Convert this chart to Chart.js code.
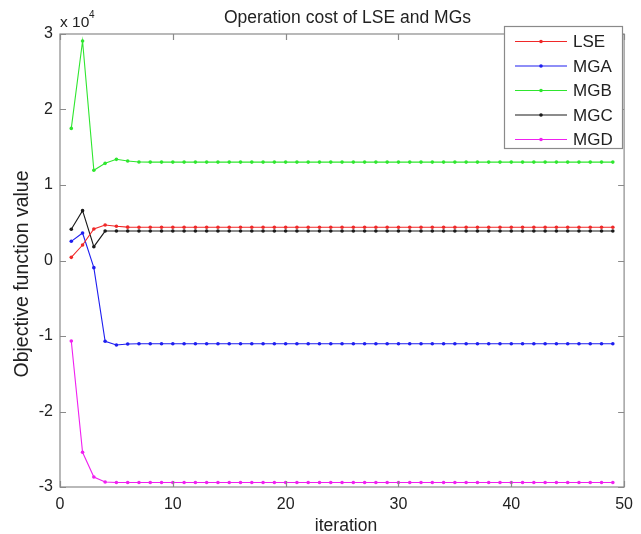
<!DOCTYPE html>
<html>
<head>
<meta charset="utf-8">
<script src="https://cdn.jsdelivr.net/npm/chart.js@4/dist/chart.umd.min.js"></script>
<style>
  html, body { margin: 0; padding: 0; background: #ffffff; }
  #c { display: block; }
</style>
</head>
<body>
<canvas id="c" width="641" height="534"></canvas>
<script>
// ---- Data ----
const iterations = [1,2,3,4,5,6,7,8,9,10,11,12,13,14,15,16,17,18,19,20,21,22,23,24,25,26,27,28,29,30,31,32,33,34,35,36,37,38,39,40,41,42,43,44,45,46,47,48,49];

const seriesNames = ["LSE", "MGA", "MGB", "MGC", "MGD"];

const lseValues = [420, 2050, 4170, 4700, 4530, 4420, 4400, 4400, 4400, 4400, 4400, 4400, 4400, 4400, 4400, 4400, 4400, 4400, 4400, 4400, 4400, 4400, 4400, 4400, 4400, 4400, 4400, 4400, 4400, 4400, 4400, 4400, 4400, 4400, 4400, 4400, 4400, 4400, 4400, 4400, 4400, 4400, 4400, 4400, 4400, 4400, 4400, 4400, 4400];

const mgaValues = [2540, 3640, -950, -10700, -11190, -11060, -11030, -11020, -11020, -11020, -11020, -11020, -11020, -11020, -11020, -11020, -11020, -11020, -11020, -11020, -11020, -11020, -11020, -11020, -11020, -11020, -11020, -11020, -11020, -11020, -11020, -11020, -11020, -11020, -11020, -11020, -11020, -11020, -11020, -11020, -11020, -11020, -11020, -11020, -11020, -11020, -11020, -11020, -11020];

const mgbValues = [17500, 29070, 11950, 12870, 13400, 13180, 13050, 13030, 13030, 13030, 13030, 13030, 13030, 13030, 13030, 13030, 13030, 13030, 13030, 13030, 13030, 13030, 13030, 13030, 13030, 13030, 13030, 13030, 13030, 13030, 13030, 13030, 13030, 13030, 13030, 13030, 13030, 13030, 13030, 13030, 13030, 13030, 13030, 13030, 13030, 13030, 13030, 13030, 13030];

const mgcValues = [4130, 6600, 1830, 3900, 3900, 3900, 3900, 3900, 3900, 3900, 3900, 3900, 3900, 3900, 3900, 3900, 3900, 3900, 3900, 3900, 3900, 3900, 3900, 3900, 3900, 3900, 3900, 3900, 3900, 3900, 3900, 3900, 3900, 3900, 3900, 3900, 3900, 3900, 3900, 3900, 3900, 3900, 3900, 3900, 3900, 3900, 3900, 3900, 3900];

const mgdValues = [-10660, -25400, -28670, -29340, -29400, -29400, -29400, -29400, -29400, -29400, -29400, -29400, -29400, -29400, -29400, -29400, -29400, -29400, -29400, -29400, -29400, -29400, -29400, -29400, -29400, -29400, -29400, -29400, -29400, -29400, -29400, -29400, -29400, -29400, -29400, -29400, -29400, -29400, -29400, -29400, -29400, -29400, -29400, -29400, -29400, -29400, -29400, -29400, -29400];

const xTickValues = [0, 10, 20, 30, 40, 50];
const yTickValues = [-30000, -20000, -10000, 0, 10000, 20000, 30000];

const titleText = "Operation cost of LSE and MGs";
const xTitleText = "iteration";
const yTitleText = "Objective function value";

// ---- Styles ----
const seriesColors = ["#f02828", "#1e1ef0", "#2ee62e", "#1a1a1a", "#f020f0"];
const allValues = [lseValues, mgaValues, mgbValues, mgcValues, mgdValues];
const FONT = "'Liberation Sans', Arial, Helvetica, sans-serif";
const TEXT = "#222222";
const FRAME = "#8a8a8a";

const datasets = seriesNames.map((name, i) => ({
  label: name,
  data: iterations.map((it, k) => ({ x: it, y: allValues[i][k] })),
  borderColor: seriesColors[i],
  backgroundColor: seriesColors[i],
  borderWidth: 1.1,
  pointRadius: 1.8,
  pointBorderWidth: 0,
  pointHoverRadius: 1.8,
  tension: 0,
  fill: false
}));

const decorPlugin = {
  id: 'decor',
  afterDatasetsDraw(chart) {
    const ctx = chart.ctx;
    const a = chart.chartArea;
    const xs = chart.scales.x, ys = chart.scales.y;
    ctx.save();
    // frame
    ctx.strokeStyle = FRAME;
    ctx.lineWidth = 1.2;
    ctx.strokeRect(a.left, a.top, a.right - a.left, a.bottom - a.top);
    // inward ticks
    const tl = 6;
    ctx.beginPath();
    xTickValues.forEach(v => {
      const px = Math.round(xs.getPixelForValue(v)) + 0.5;
      ctx.moveTo(px, a.bottom); ctx.lineTo(px, a.bottom - tl);
      ctx.moveTo(px, a.top); ctx.lineTo(px, a.top + tl);
    });
    yTickValues.forEach(v => {
      const py = Math.round(ys.getPixelForValue(v)) + 0.5;
      ctx.moveTo(a.left, py); ctx.lineTo(a.left + tl, py);
      ctx.moveTo(a.right, py); ctx.lineTo(a.right - tl, py);
    });
    ctx.stroke();

    // title
    ctx.fillStyle = TEXT;
    ctx.textAlign = 'center';
    ctx.textBaseline = 'alphabetic';
    ctx.font = "17.5px " + FONT;
    ctx.fillText(titleText, 347.5, 22.5);

    // x axis title
    ctx.font = "17.5px " + FONT;
    ctx.fillText(xTitleText, 346, 530.5);

    // y axis title
    ctx.save();
    ctx.translate(27.5, 274);
    ctx.rotate(-Math.PI / 2);
    ctx.font = "19.5px " + FONT;
    ctx.fillText(yTitleText, 0, 0);
    ctx.restore();

    // exponent label
    ctx.textAlign = 'left';
    ctx.font = "15.5px " + FONT;
    ctx.fillText("x 10", 60, 26.5);
    ctx.font = "10px " + FONT;
    ctx.fillText("4", 89, 18);

    // legend
    const bx = 504, by = 26, bw = 118, bh = 122;
    ctx.fillStyle = "#ffffff";
    ctx.fillRect(bx, by, bw, bh);
    ctx.strokeStyle = FRAME;
    ctx.lineWidth = 1.2;
    ctx.strokeRect(bx + 0.5, by + 0.5, bw, bh);
    const rows = [41.5, 66, 90.5, 115, 139.5];
    ctx.font = "17px " + FONT;
    ctx.textBaseline = 'middle';
    chart.data.datasets.forEach((ds, i) => {
      const y = rows[i];
      ctx.strokeStyle = ds.borderColor;
      ctx.lineWidth = 1.1;
      ctx.beginPath();
      ctx.moveTo(515, y); ctx.lineTo(567, y);
      ctx.stroke();
      ctx.fillStyle = ds.borderColor;
      ctx.beginPath();
      ctx.arc(541, y, 1.8, 0, Math.PI * 2);
      ctx.fill();
      ctx.fillStyle = TEXT;
      ctx.fillText(ds.label, 573, y + 1);
    });
    ctx.restore();
  }
};

new Chart(document.getElementById('c'), {
  type: 'line',
  data: { datasets },
  options: {
    responsive: false,
    devicePixelRatio: 1,
    animation: false,
    layout: { padding: { top: 34, right: 8, left: 0, bottom: 0 } },
    scales: {
      x: {
        type: 'linear',
        min: 0, max: 50,
        afterBuildTicks: s => { s.ticks = xTickValues.map(v => ({ value: v })); },
        afterFit: s => { s.height = 47; },
        grid: { display: false, drawTicks: false },
        border: { display: false },
        ticks: { color: TEXT, font: { family: FONT, size: 16 }, padding: 8, maxRotation: 0, autoSkip: false }
      },
      y: {
        type: 'linear',
        min: -30000, max: 30000,
        afterBuildTicks: s => { s.ticks = yTickValues.map(v => ({ value: v })); },
        afterFit: s => { s.width = 60; },
        grid: { display: false, drawTicks: false },
        border: { display: false },
        ticks: { color: TEXT, font: { family: FONT, size: 16 }, padding: 7, autoSkip: false,
                 callback: v => String(v / 10000) }
      }
    },
    plugins: {
      legend: { display: false },
      title: { display: false },
      tooltip: { enabled: false }
    }
  },
  plugins: [decorPlugin]
});
</script>
</body>
</html>
